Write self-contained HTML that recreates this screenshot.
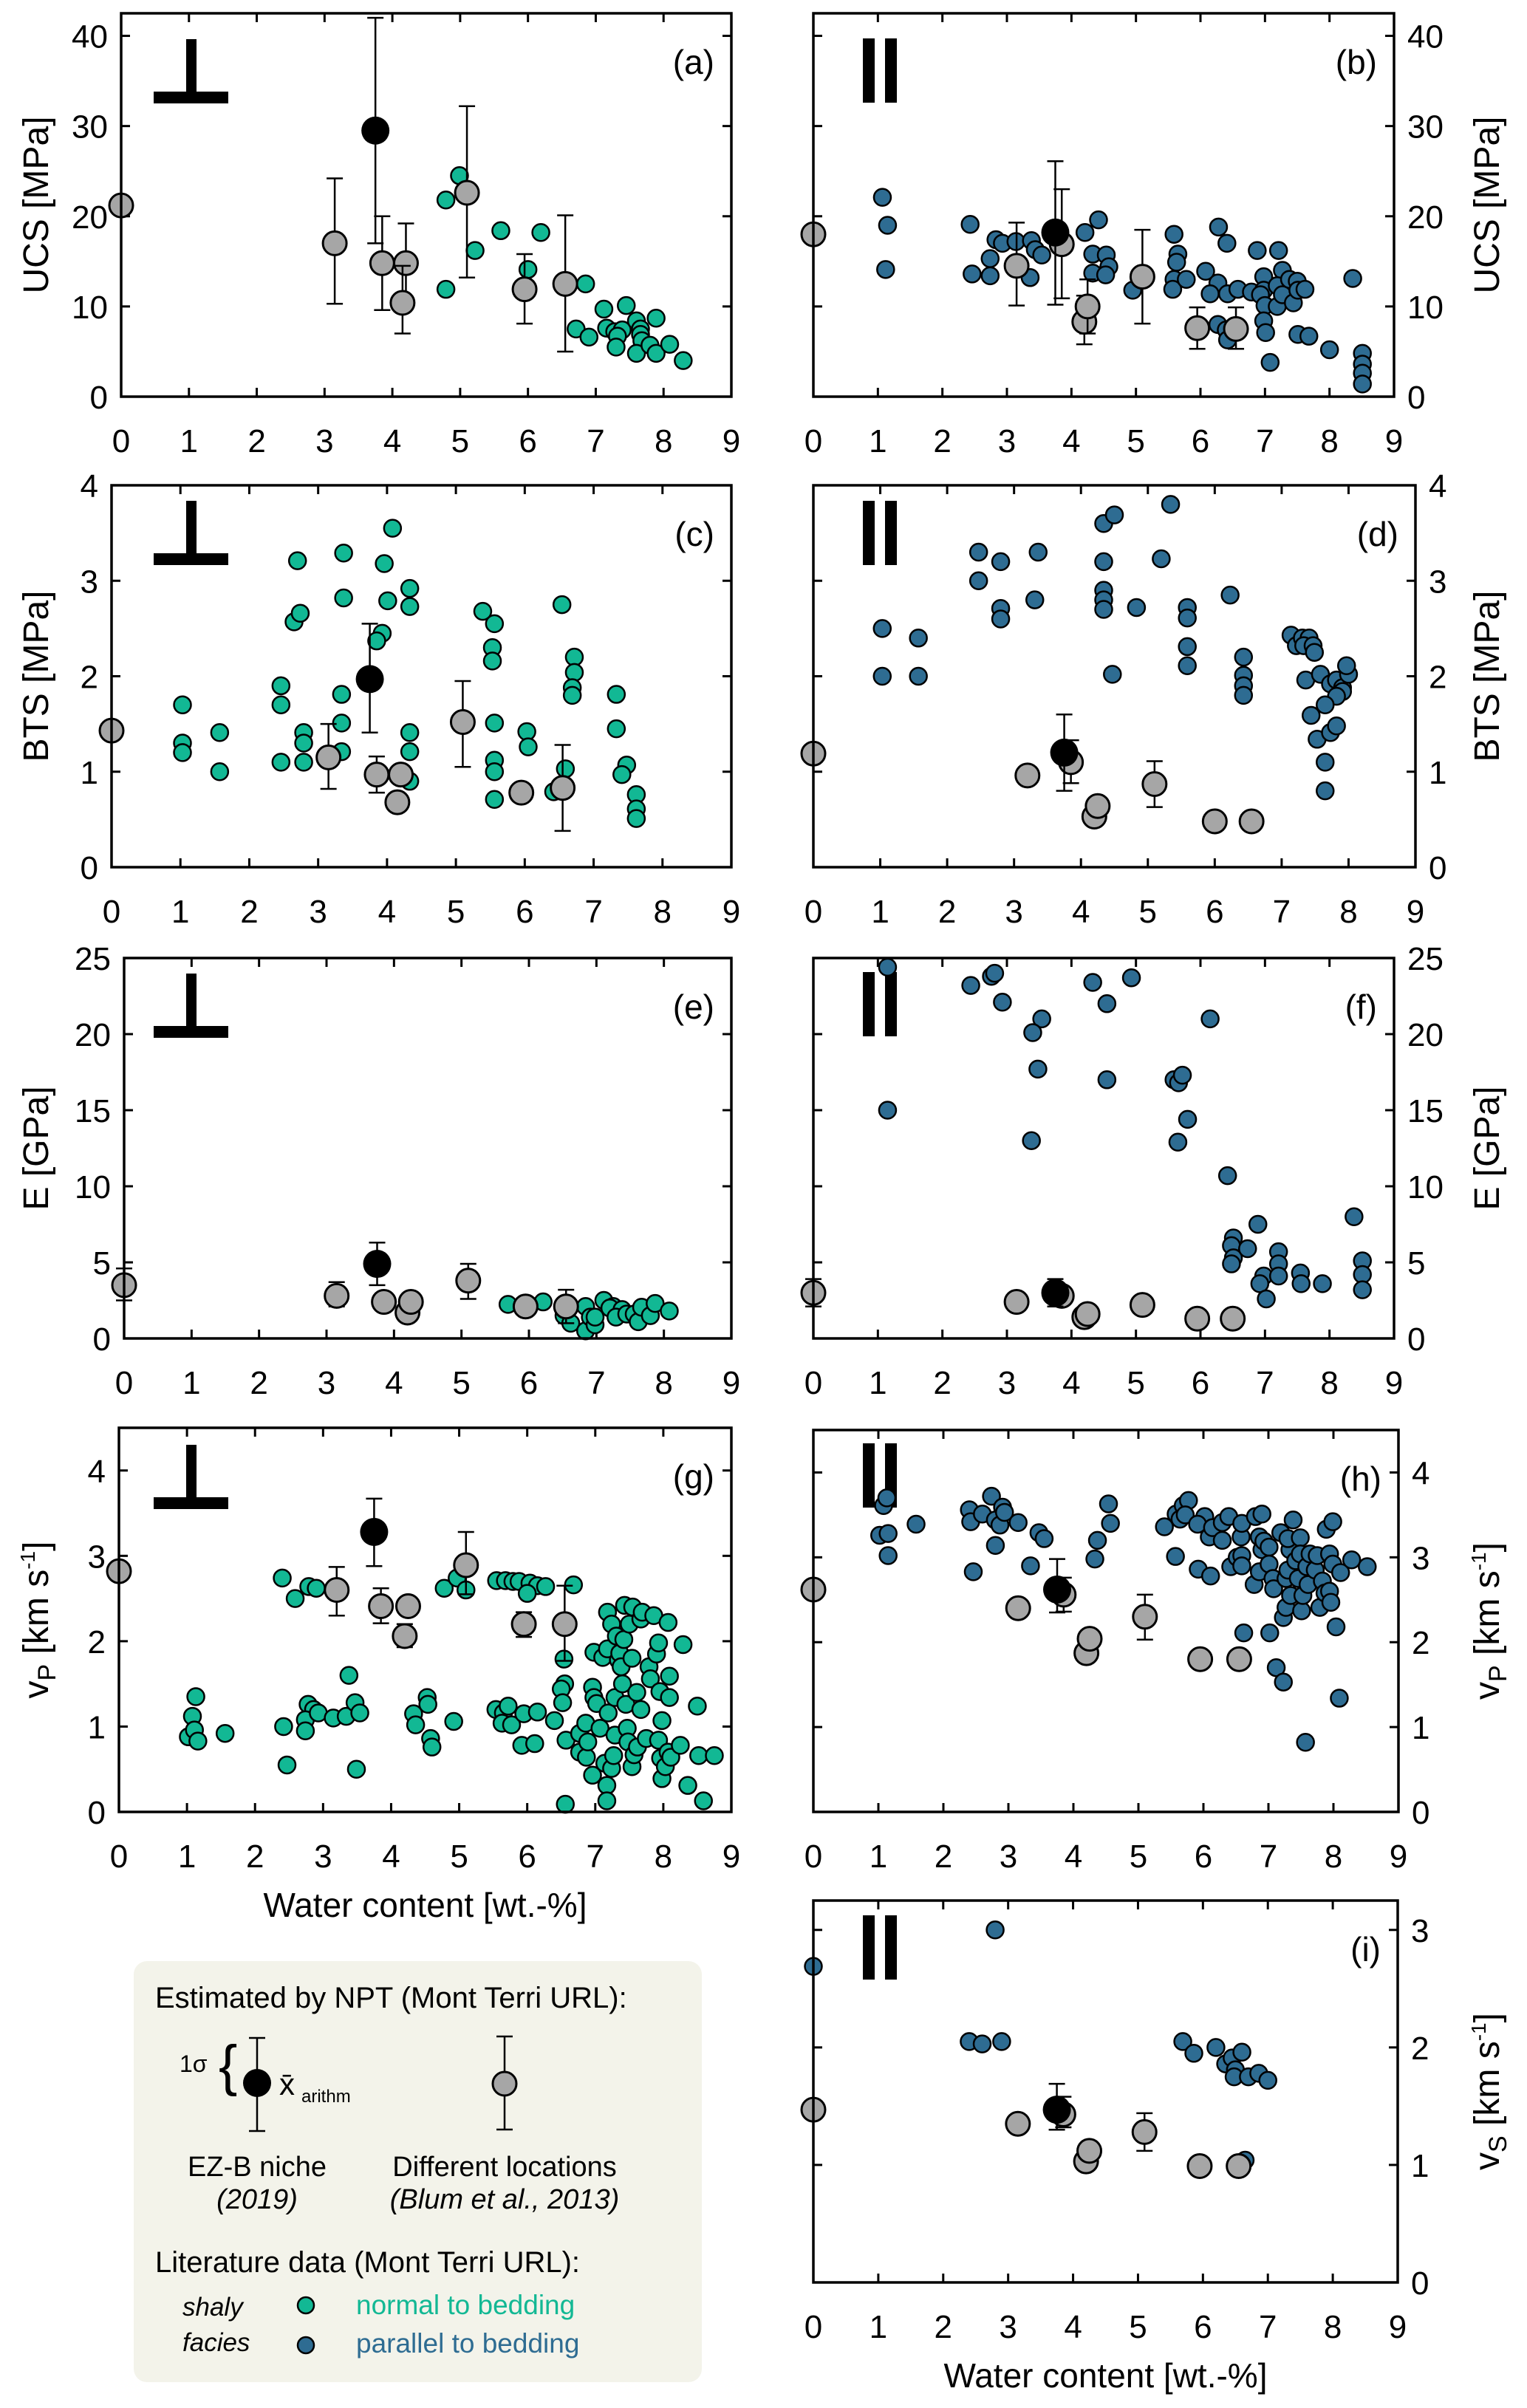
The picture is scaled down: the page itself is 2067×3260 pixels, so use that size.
<!DOCTYPE html>
<html><head><meta charset="utf-8"><title>Mechanical properties vs water content</title>
<style>
html,body{margin:0;padding:0;background:#fff;}
svg{display:block;font-family:"Liberation Sans",Arial,sans-serif;}
</style></head>
<body>
<svg id="fig" width="2067" height="3260" viewBox="0 0 2067 3260" xmlns="http://www.w3.org/2000/svg">
<g id="legend">
<rect x="181" y="2655" width="769" height="570" rx="18" fill="#f3f3ea"/>
<text x="210" y="2718" font-size="40">Estimated by NPT (Mont Terri URL):</text>
<line x1="348" y1="2759" x2="348" y2="2885" stroke="#000" stroke-width="2.5"/>
<line x1="337" y1="2759" x2="359" y2="2759" stroke="#000" stroke-width="2.5"/>
<line x1="337" y1="2885" x2="359" y2="2885" stroke="#000" stroke-width="2.5"/>
<circle cx="348" cy="2820" r="19" fill="#000"/>
<text x="243" y="2805" font-size="32">1σ</text>
<text x="296" y="2822" font-size="76" font-weight="300">{</text>
<text x="378" y="2836" font-size="42">x̄</text>
<text x="408" y="2846" font-size="24">arithm</text>
<line x1="683" y1="2757" x2="683" y2="2883" stroke="#000" stroke-width="2.5"/>
<line x1="672" y1="2757" x2="694" y2="2757" stroke="#000" stroke-width="2.5"/>
<line x1="672" y1="2883" x2="694" y2="2883" stroke="#000" stroke-width="2.5"/>
<circle cx="683" cy="2821" r="16" fill="#a6a6a6" stroke="#000" stroke-width="3"/>
<text x="348" y="2946" font-size="38" text-anchor="middle">EZ-B niche</text>
<text x="348" y="2990" font-size="38" text-anchor="middle" font-style="italic">(2019)</text>
<text x="683" y="2946" font-size="38" text-anchor="middle">Different locations</text>
<text x="683" y="2990" font-size="38" text-anchor="middle" font-style="italic">(Blum et al., 2013)</text>
<text x="210" y="3076" font-size="40">Literature data (Mont Terri URL):</text>
<text x="247" y="3135" font-size="35" font-style="italic">shaly</text>
<text x="247" y="3183" font-size="35" font-style="italic">facies</text>
<circle cx="414" cy="3121" r="11" fill="#12b894" stroke="#000" stroke-width="2.5"/>
<circle cx="414" cy="3175" r="11" fill="#2e6c92" stroke="#000" stroke-width="2.5"/>
<text x="482" y="3133" font-size="37" fill="#12b894">normal to bedding</text>
<text x="482" y="3185" font-size="37" fill="#2e6c92">parallel to bedding</text>
</g>
</svg>
<script>
// ---------- data (water content [wt.-%], value) ----------
const xTicks = [0,1,2,3,4,5,6,7,8,9];
const ucsTicks = [0,10,20,30,40];
const btsTicks = [0,1,2,3,4];
const eTicks = [0,5,10,15,20,25];
const vpTicks = [0,1,2,3,4];
const vsTicks = [0,1,2,3];

// panel (a) UCS normal
const ucsNormal = [[4.79,21.8],[4.99,24.5],[5.22,16.2],[4.79,11.9],[5.6,18.4],[6.0,14.1],[6.19,18.2],[6.85,12.5],[6.71,7.5],[6.9,6.6],[7.12,9.7],[7.45,10.1],[7.16,7.6],[7.28,7.2],[7.39,7.4],[7.32,6.7],[7.3,5.5],[7.6,8.4],[7.66,7.5],[7.66,6.9],[7.68,6.2],[7.6,4.8],[7.89,8.7],[7.8,5.7],[7.89,4.8],[8.09,5.8],[8.29,4.0]];
const ucsNormalBlum = [[0,21.2,null,null],[3.15,17.0,10.3,24.2],[3.85,14.8,9.6,20.0],[4.2,14.8,10.4,19.2],[4.15,10.4,7.0,14.5],[5.1,22.6,13.2,32.2],[5.95,11.9,8.1,15.8],[6.55,12.5,5.0,20.1]];
const ucsNormalEzb = [[3.75,29.5,17.0,42.0]];
// panel (b) UCS parallel
const ucsParallel = [[1.07,22.1],[1.15,19.0],[1.12,14.1],[2.43,19.1],[2.46,13.6],[2.74,15.3],[2.74,13.4],[2.83,17.4],[2.93,17.0],[3.14,17.2],[3.38,17.3],[3.44,16.3],[3.54,15.7],[3.36,13.2],[4.21,18.2],[4.42,19.6],[4.33,15.8],[4.33,13.7],[4.54,15.7],[4.58,14.4],[4.53,13.5],[4.95,11.8],[5.59,18.0],[5.65,15.8],[5.63,14.9],[5.59,13.0],[5.57,11.9],[5.78,13.0],[6.08,13.9],[6.28,18.8],[6.41,17.0],[6.27,12.6],[6.15,11.4],[6.42,11.4],[6.58,11.9],[6.27,8.0],[6.4,7.4],[6.42,6.3],[6.79,11.6],[6.88,16.2],[6.98,13.3],[6.98,11.8],[6.93,11.3],[7.0,10.1],[6.98,8.4],[7.01,7.1],[7.08,3.8],[7.21,16.2],[7.27,14.0],[7.19,12.3],[7.19,10.0],[7.27,11.3],[7.38,13.0],[7.5,12.8],[7.44,10.4],[7.51,11.8],[7.62,11.9],[7.51,6.9],[7.68,6.7],[8.0,5.2],[8.36,13.1],[8.51,4.8],[8.51,3.6],[8.51,2.6],[8.51,1.4]];
const ucsParallelBlum = [[0,18.0,null,null],[3.15,14.5,10.1,19.3],[3.85,16.9,10.9,23.0],[4.2,8.3,5.8,11.2],[4.25,10.0,7.0,13.0],[5.1,13.3,8.1,18.5],[5.95,7.6,5.3,9.9],[6.55,7.5,5.3,9.9]];
const ucsParallelEzb = [[3.75,18.2,10.2,26.1]];
// panel (c) BTS normal
const btsNormal = [[1.03,1.7],[1.03,1.3],[1.03,1.2],[1.57,1.41],[1.57,1.0],[2.46,1.9],[2.46,1.7],[2.46,1.1],[2.7,3.21],[2.65,2.57],[2.74,2.66],[2.79,1.41],[2.79,1.3],[2.79,1.1],[3.37,3.29],[3.37,2.82],[3.34,1.81],[3.34,1.51],[3.34,1.21],[4.08,3.55],[3.96,3.18],[4.01,2.79],[3.93,2.45],[3.85,2.37],[4.33,2.92],[4.33,2.73],[4.33,1.41],[4.33,1.21],[4.33,0.9],[5.39,2.68],[5.56,2.55],[5.53,2.3],[5.53,2.16],[5.56,1.51],[5.56,1.12],[5.56,1.0],[5.56,0.71],[6.03,1.42],[6.05,1.26],[6.42,0.79],[6.54,2.75],[6.72,2.2],[6.72,2.04],[6.69,1.88],[6.69,1.8],[6.59,1.03],[7.33,1.81],[7.33,1.45],[7.48,1.07],[7.41,0.97],[7.62,0.76],[7.62,0.61],[7.62,0.51]];
const btsNormalBlum = [[0,1.43,null,null],[3.15,1.15,0.82,1.5],[3.85,0.97,0.78,1.16],[4.2,0.97,null,null],[4.15,0.68,null,null],[5.1,1.52,1.05,1.95],[5.95,0.78,null,null],[6.55,0.83,0.38,1.28]];
const btsNormalEzb = [[3.75,1.97,1.41,2.55]];
// panel (d) BTS parallel
const btsParallel = [[1.03,2.5],[1.03,2.0],[1.57,2.4],[1.57,2.0],[2.47,3.3],[2.47,3.0],[2.8,3.2],[2.8,2.71],[2.8,2.6],[3.36,3.3],[3.31,2.8],[4.34,3.6],[4.5,3.69],[4.34,3.2],[4.34,2.9],[4.34,2.8],[4.34,2.7],[4.47,2.02],[4.83,2.72],[5.34,3.8],[5.2,3.23],[5.59,2.72],[5.59,2.61],[5.59,2.31],[5.59,2.11],[6.23,2.85],[6.43,2.2],[6.43,2.01],[6.43,1.9],[6.43,1.8],[7.14,2.43],[7.22,2.32],[7.31,2.4],[7.41,2.4],[7.33,2.32],[7.47,2.32],[7.49,2.25],[7.36,1.96],[7.58,2.02],[7.73,1.92],[7.82,1.96],[7.91,1.88],[7.91,1.84],[7.82,1.79],[8.0,2.02],[7.97,2.11],[7.65,1.7],[7.44,1.59],[7.53,1.34],[7.73,1.41],[7.82,1.48],[7.65,1.1],[7.65,0.8]];
const btsParallelBlum = [[0,1.19,null,null],[3.2,0.96,null,null],[3.85,1.1,0.88,1.33],[4.2,0.53,null,null],[4.25,0.64,null,null],[5.1,0.87,0.63,1.11],[6.0,0.48,null,null],[6.55,0.48,null,null]];
const btsParallelEzb = [[3.75,1.2,0.8,1.6]];
// panel (e) E normal
const eNormal = [[5.69,2.24],[6.21,2.4],[6.52,1.5],[6.62,1.0],[6.84,2.1],[6.84,0.5],[6.91,1.4],[6.98,0.9],[6.98,1.4],[7.11,2.5],[7.25,2.1],[7.2,2.0],[7.38,1.9],[7.29,1.4],[7.45,1.6],[7.56,1.6],[7.62,1.1],[7.67,2.05],[7.8,1.5],[7.87,2.3],[8.08,1.8]];
const eNormalBlum = [[0,3.5,2.5,4.6],[3.15,2.8,2.1,3.7],[3.85,2.4,null,null],[4.2,1.7,null,null],[4.25,2.4,null,null],[5.1,3.8,2.6,4.9],[5.95,2.1,null,null],[6.55,2.1,1.0,3.2]];
const eNormalEzb = [[3.75,4.9,3.5,6.3]];
// panel (f) E parallel
const eParallel = [[1.15,24.4],[1.15,15.0],[2.44,23.2],[2.76,23.8],[2.81,24.0],[2.93,22.1],[3.54,21.0],[3.4,20.1],[3.48,17.7],[3.38,13.0],[4.33,23.4],[4.93,23.7],[4.55,22.0],[4.55,17.0],[5.59,17.0],[5.66,16.8],[5.72,17.3],[5.8,14.4],[5.65,12.9],[6.15,21.0],[6.42,10.7],[6.51,6.6],[6.48,6.1],[6.51,5.3],[6.48,4.9],[6.73,5.9],[6.89,7.5],[6.98,4.1],[6.92,3.6],[7.02,2.6],[7.21,5.7],[7.21,4.9],[7.21,4.1],[7.55,4.3],[7.56,3.6],[7.89,3.6],[8.38,8.0],[8.51,5.1],[8.51,4.2],[8.51,3.2]];
const eParallelBlum = [[0,3.0,2.1,3.9],[3.15,2.4,null,null],[3.85,2.8,null,null],[4.2,1.4,null,null],[4.25,1.6,null,null],[5.1,2.2,null,null],[5.95,1.3,null,null],[6.5,1.3,null,null]];
const eParallelEzb = [[3.75,3.0,2.1,3.9]];
// panel (g) vP normal
const vpNormal = [[1.02,0.88],[1.08,1.12],[1.11,0.96],[1.16,0.83],[1.13,1.35],[1.56,0.92],[2.4,2.74],[2.59,2.5],[2.42,1.0],[2.47,0.55],[2.79,2.64],[2.9,2.62],[2.78,1.26],[2.86,1.2],[2.74,1.08],[2.74,0.95],[2.93,1.16],[3.15,1.1],[3.34,1.12],[3.38,1.6],[3.47,1.28],[3.54,1.16],[3.49,0.5],[4.33,1.15],[4.36,1.02],[4.53,1.34],[4.54,1.26],[4.58,0.86],[4.6,0.76],[4.78,2.62],[4.92,1.06],[4.97,2.74],[5.1,2.6],[5.55,2.71],[5.68,2.71],[5.79,2.7],[5.88,2.7],[6.04,2.68],[6.15,2.65],[6.27,2.64],[6.68,2.66],[6.0,2.56],[5.54,1.2],[5.65,1.16],[5.72,1.24],[5.63,1.04],[5.77,1.02],[5.95,1.15],[6.15,1.17],[5.92,0.78],[6.11,0.8],[6.4,1.07],[6.54,1.79],[6.55,1.5],[6.5,1.44],[6.52,1.28],[6.57,0.84],[6.56,0.09],[6.77,0.92],[6.86,1.04],[6.77,0.7],[6.87,0.64],[6.89,0.82],[6.96,0.43],[6.98,1.87],[6.96,1.46],[6.98,1.34],[7.02,1.27],[7.07,0.98],[7.11,1.81],[7.14,0.57],[7.17,0.31],[7.17,0.13],[7.18,2.34],[7.19,1.16],[7.18,1.91],[7.24,2.2],[7.24,0.51],[7.27,0.66],[7.29,1.34],[7.29,0.9],[7.31,2.06],[7.34,1.78],[7.36,1.86],[7.38,1.7],[7.4,1.5],[7.42,2.02],[7.43,2.42],[7.45,1.26],[7.47,0.98],[7.48,0.82],[7.5,2.2],[7.54,1.8],[7.54,0.53],[7.55,2.4],[7.57,0.67],[7.61,1.4],[7.62,0.76],[7.67,1.2],[7.67,2.26],[7.69,2.34],[7.75,0.86],[7.79,1.7],[7.81,1.56],[7.86,2.3],[7.9,1.85],[7.93,0.84],[7.93,1.98],[7.95,1.41],[7.98,1.07],[7.96,0.63],[7.98,0.39],[8.03,0.53],[8.07,2.22],[8.07,0.7],[8.09,1.59],[8.09,1.34],[8.11,0.64],[8.25,0.78],[8.29,1.96],[8.36,0.31],[8.5,1.24],[8.52,0.66],[8.59,0.13],[8.75,0.66]];
const vpNormalBlum = [[0,2.82,null,null],[3.2,2.6,2.3,2.87],[3.85,2.41,2.21,2.62],[4.2,2.06,1.93,2.2],[4.25,2.41,null,null],[5.1,2.89,2.55,3.28],[5.95,2.2,2.05,2.34],[6.55,2.2,1.77,2.65]];
const vpNormalEzb = [[3.75,3.28,2.88,3.67]];
// panel (h) vP parallel
const vpParallel = [[1.08,3.61],[1.13,3.7],[1.02,3.26],[1.15,3.28],[1.15,3.02],[1.58,3.39],[2.4,3.56],[2.42,3.42],[2.46,2.83],[2.6,3.51],[2.74,3.72],[2.8,3.44],[2.8,3.14],[2.87,3.38],[2.91,3.59],[2.94,3.53],[3.15,3.41],[3.34,2.9],[3.47,3.29],[3.55,3.22],[4.33,2.98],[4.37,3.2],[4.54,3.63],[4.57,3.4],[5.4,3.36],[5.57,3.01],[5.58,3.51],[5.64,3.45],[5.69,3.61],[5.77,3.67],[5.72,3.5],[5.92,2.86],[6.11,2.78],[6.02,3.48],[5.91,3.39],[6.09,3.24],[6.14,3.35],[6.29,3.2],[6.29,3.41],[6.39,3.48],[6.42,2.89],[6.52,3.0],[6.58,3.24],[6.59,3.4],[6.62,2.11],[6.59,3.02],[6.59,2.9],[6.78,2.68],[6.8,3.48],[6.9,3.51],[6.86,3.24],[6.9,3.09],[6.86,2.83],[6.93,3.19],[7.01,3.12],[7.01,2.92],[7.02,2.11],[7.07,2.75],[7.08,2.63],[7.12,1.7],[7.19,3.29],[7.23,1.53],[7.23,2.29],[7.27,2.41],[7.27,2.75],[7.3,2.85],[7.33,3.09],[7.34,2.55],[7.3,3.22],[7.38,3.44],[7.42,2.96],[7.46,2.75],[7.49,3.23],[7.49,3.04],[7.51,2.37],[7.53,2.55],[7.57,0.82],[7.59,2.89],[7.61,2.68],[7.64,3.04],[7.72,2.85],[7.75,3.02],[7.79,2.41],[7.83,2.72],[7.87,2.58],[7.89,3.33],[7.94,3.04],[7.94,2.6],[7.96,2.47],[7.99,3.42],[7.99,2.92],[8.04,2.18],[8.09,1.34],[8.11,2.82],[8.28,2.97],[8.52,2.89]];
const vpParallelBlum = [[0,2.62,null,null],[3.15,2.4,null,null],[3.85,2.56,2.36,2.76],[4.2,1.87,null,null],[4.25,2.04,null,null],[5.1,2.3,2.03,2.56],[5.95,1.8,null,null],[6.55,1.8,null,null]];
const vpParallelEzb = [[3.75,2.62,2.35,2.98]];
// panel (i) vS parallel
const vsParallel = [[0,2.69],[2.8,3.0],[2.4,2.05],[2.6,2.03],[2.9,2.05],[5.69,2.05],[5.86,1.95],[6.2,2.0],[6.35,1.86],[6.45,1.91],[6.5,1.81],[6.48,1.75],[6.6,1.96],[6.7,1.75],[6.86,1.78],[7.0,1.72],[6.65,1.04]];
const vsParallelBlum = [[0,1.47,null,null],[3.15,1.35,null,null],[3.85,1.43,1.32,1.58],[4.2,1.03,null,null],[4.25,1.12,null,null],[5.1,1.28,1.12,1.44],[5.95,0.99,null,null],[6.55,0.99,null,null]];
const vsParallelEzb = [[3.75,1.47,1.3,1.69]];

const GREEN = '#12b894', BLUE = '#2e6c92', GRAY = '#a6a6a6';
const NS = 'http://www.w3.org/2000/svg';
const svg = document.getElementById('fig');

function make(tag, parent) {
  const e = document.createElementNS(NS, tag);
  parent.appendChild(e);
  return e;
}
function attr(e, o) { for (const k in o) e.setAttribute(k, o[k]); return e; }

const panels = [
  {id:'a', l:164, t:18, r:990, b:537, ymax:42.5, ticks:ucsTicks, side:'left', title:'UCS [MPa]', lit:ucsNormal, col:GREEN, blum:ucsNormalBlum, ezb:ucsNormalEzb, sym:'perp', sy:35},
  {id:'b', l:1101, t:18, r:1887, b:537, ymax:42.5, ticks:ucsTicks, side:'right', title:'UCS [MPa]', lit:ucsParallel, col:BLUE, blum:ucsParallelBlum, ezb:ucsParallelEzb, sym:'par', sy:34},
  {id:'c', l:151, t:657, r:990, b:1174, ymax:4, ticks:btsTicks, side:'left', title:'BTS [MPa]', lit:btsNormal, col:GREEN, blum:btsNormalBlum, ezb:btsNormalEzb, sym:'perp', sy:21},
  {id:'d', l:1101, t:657, r:1916, b:1174, ymax:4, ticks:btsTicks, side:'right', title:'BTS [MPa]', lit:btsParallel, col:BLUE, blum:btsParallelBlum, ezb:btsParallelEzb, sym:'par', sy:21},
  {id:'e', l:168, t:1297, r:990, b:1812, ymax:25, ticks:eTicks, side:'left', title:'E [GPa]', lit:eNormal, col:GREEN, blum:eNormalBlum, ezb:eNormalEzb, sym:'perp', sy:21},
  {id:'f', l:1101, t:1297, r:1887, b:1812, ymax:25, ticks:eTicks, side:'right', title:'E [GPa]', lit:eParallel, col:BLUE, blum:eParallelBlum, ezb:eParallelEzb, sym:'par', sy:19},
  {id:'g', l:161, t:1933, r:990, b:2453, ymax:4.5, ticks:vpTicks, side:'left', title:'vP', lit:vpNormal, col:GREEN, blum:vpNormalBlum, ezb:vpNormalEzb, sym:'perp', sy:23, xtitle:true},
  {id:'h', l:1101, t:1936, r:1893, b:2453, ymax:4.5, ticks:vpTicks, side:'right', title:'vP', lit:vpParallel, col:BLUE, blum:vpParallelBlum, ezb:vpParallelEzb, sym:'par', sy:18},
  {id:'i', l:1101, t:2573, r:1892, b:3090, ymax:3.25, ticks:vsTicks, side:'right', title:'vS', lit:vsParallel, col:BLUE, blum:vsParallelBlum, ezb:vsParallelEzb, sym:'par', sy:20, xtitle:true}
];

function errbar(g, X, x, lo, hi, Y) {
  if (lo === null) return;
  const ln = make('line', g);
  
  
  attr(ln, {x1:X(x), x2:X(x), y1:Y(lo), y2:Y(hi), stroke:'#000', 'stroke-width':2.5});
  [lo, hi].forEach(v => {
    const c = make('line', g);
    
    
    attr(c, {x1:X(x)-11, x2:X(x)+11, y1:Y(v), y2:Y(v), stroke:'#000', 'stroke-width':2.5});
  });
}

panels.forEach(p => {
  const g = make('g', svg);
  
  
  const X = v => p.l + v / 9 * (p.r - p.l);
  const Y = v => p.b - v / p.ymax * (p.b - p.t);

  xTicks.forEach(t => {
    if (t > 0 && t < 9) {
      const a = make('line', g);
      
      
      attr(a, {x1:X(t), x2:X(t), y1:p.b, y2:p.b-12, stroke:'#000', 'stroke-width':3});
      const b2 = make('line', g);
      
      
      attr(b2, {x1:X(t), x2:X(t), y1:p.t, y2:p.t+12, stroke:'#000', 'stroke-width':3});
    }
    const lb = make('text', g);
    
    
    attr(lb, {x:X(t), y:p.b+75, 'font-size':44, 'text-anchor':'middle'});
    lb.textContent = t;
  });
  p.ticks.forEach(t => {
    if (t > 0 && t < p.ymax) {
      const a = make('line', g);
      
      
      attr(a, {x1:p.l, x2:p.l+12, y1:Y(t), y2:Y(t), stroke:'#000', 'stroke-width':3});
      const b2 = make('line', g);
      
      
      attr(b2, {x1:p.r, x2:p.r-12, y1:Y(t), y2:Y(t), stroke:'#000', 'stroke-width':3});
    }
    const lb = make('text', g);
    
    
    if (p.side === 'left') attr(lb, {x:p.l-18, y:Y(t)+16, 'font-size':44, 'text-anchor':'end'});
    else attr(lb, {x:p.r+18, y:Y(t)+16, 'font-size':44, 'text-anchor':'start'});
    lb.textContent = t;
  });

  const cy = (p.t + p.b) / 2;
  const tx = p.side === 'left' ? 48 : 2012;
  const yt = make('text', g);
  
  
  attr(yt, {x:tx+17, y:cy, 'font-size':48, 'text-anchor':'middle', transform:'rotate(-90 '+(tx+17)+' '+cy+')'});
  if (p.title === 'vP' || p.title === 'vS') {
    const s1 = make('tspan', yt); s1.textContent = 'v';
    const s2 = make('tspan', yt); attr(s2, {'font-size':34, dy:10}); s2.textContent = p.title === 'vP' ? 'P' : 'S';
    const s3 = make('tspan', yt); attr(s3, {dy:-10}); s3.textContent = ' [km s';
    const s4 = make('tspan', yt); attr(s4, {'font-size':28, dy:-18}); s4.textContent = '-1';
    const s5 = make('tspan', yt); attr(s5, {dy:18}); s5.textContent = ']';
  } else {
    yt.textContent = p.title;
  }

  const pl = make('text', g);
  
  
  attr(pl, {x:p.r-23, y:p.t+82, 'font-size':46, 'text-anchor':'end'});
  pl.textContent = '(' + p.id + ')';

  const sg = make('g', g);
  
  
  if (p.sym === 'perp') {
    attr(make('rect', sg), {x:252, y:p.t+p.sy, width:14, height:72, fill:'#000'});
    attr(make('rect', sg), {x:208, y:p.t+p.sy+71, width:101, height:16, fill:'#000'});
  } else {
    attr(make('rect', sg), {x:1168, y:p.t+p.sy, width:16, height:87, fill:'#000'});
    attr(make('rect', sg), {x:1198, y:p.t+p.sy, width:16, height:87, fill:'#000'});
  }

  p.lit.forEach(d => {
    const c = make('circle', g);
    
    
    attr(c, {cx:X(d[0]), cy:Y(d[1]), r:11.5, fill:p.col, stroke:'#000', 'stroke-width':2.5});
  });
  p.blum.forEach(d => {
    errbar(g, X, d[0], d[2], d[3], Y);
    const c = make('circle', g);
    
    
    attr(c, {cx:X(d[0]), cy:Y(d[1]), r:16, fill:GRAY, stroke:'#000', 'stroke-width':3});
  });
  p.ezb.forEach(d => {
    errbar(g, X, d[0], d[2], d[3], Y);
    const c = make('circle', g);
    
    
    attr(c, {cx:X(d[0]), cy:Y(d[1]), r:19, fill:'#000'});
  });

  const fr = make('rect', g);
  
  
  attr(fr, {x:p.l, y:p.t, width:p.r-p.l, height:p.b-p.t, fill:'none', stroke:'#000', 'stroke-width':3.5});

  if (p.xtitle) {
    const xt = make('text', g);
    
    
    attr(xt, {x:(p.l+p.r)/2, y:p.b+142, 'font-size':46, 'text-anchor':'middle'});
    xt.textContent = 'Water content [wt.-%]';
  }
});
</script>
</body></html>
